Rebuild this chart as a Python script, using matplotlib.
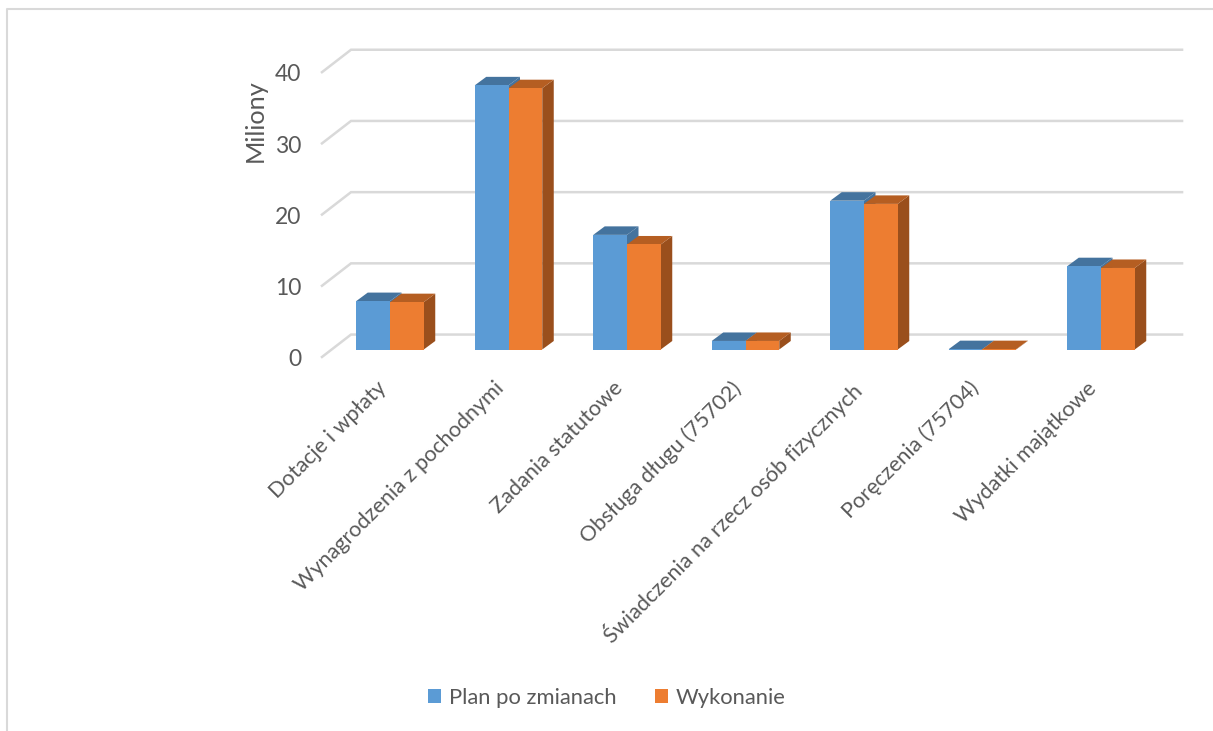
import matplotlib
matplotlib.use("Agg")
import matplotlib.pyplot as plt
from matplotlib.patches import Polygon, Patch

categories = ["Dotacje i wpłaty", "Wynagrodzenia z pochodnymi", "Zadania statutowe",
              "Obsługa długu (75702)", "Świadczenia na rzecz osób fizycznych",
              "Poręczenia (75704)", "Wydatki majątkowe"]
plan = [6.8, 37.1, 16.1, 1.2, 20.9, 0.05, 11.7]
wykonanie = [6.65, 36.7, 14.75, 1.2, 20.45, 0.05, 11.45]
yticks = [0, 10, 20, 30, 40]

W, H = 1213, 731
X0, DX = 390.0, 118.5    # pixel of first category, pixels per category
Y0, DY = 349.5, 7.12     # pixel of zero, pixels per million

plt.rcParams["font.family"] = ["Lato", "DejaVu Sans"]
TEXT = "#595959"
GRID = "#D9D9D9"

fig = plt.figure(figsize=(W / 100, H / 100), dpi=100)
ax = fig.add_axes([0, 0, 1, 1])
ax.set_xlim(-X0 / DX, (W - X0) / DX)
ax.set_ylim((Y0 - H) / DY, Y0 / DY)
ax.axis("off")

bar_w = 33.75 / DX
depth_x = 11.5 / DX
depth_y = 8.5 / DY


def bars3d(offset, values, front, top, side, label, z):
    for i, v in enumerate(values):
        l = i + offset
        r = l + bar_w
        ax.add_patch(Polygon([(r, 0), (r + depth_x, depth_y), (r + depth_x, v + depth_y), (r, v)],
                             fc=side, ec="none", zorder=z))
        ax.add_patch(Polygon([(l, v), (l + depth_x, v + depth_y), (r + depth_x, v + depth_y), (r, v)],
                             fc=top, ec="none", zorder=z))
    ax.bar([i + offset for i in range(len(values))], values, width=bar_w, align="edge",
           color=front, label=label, zorder=z + 0.5)


# gridlines on the back wall and the slanted bit on the side wall
for v in yticks:
    ax.plot([-0.574, -0.329, 6.684], [v - 1.05, v + 2.1, v + 2.1], color=GRID, lw=1.8,
            zorder=1, solid_joinstyle="miter")
    ax.text(-0.751, v - 1.15, str(v), ha="right", va="center_baseline", fontsize=16.5, color=TEXT)

bars3d(-bar_w, plan, "#5B9BD5", "#44739E", "#44739E", "Plan po zmianach", 2)
bars3d(0, wykonanie, "#ED7D31", "#B55E22", "#9A4F1C", "Wykonanie", 3)

for i, name in enumerate(categories):
    ax.text(i - 0.12, -4.0, name, rotation=45, rotation_mode="anchor", ha="right", va="top",
            fontsize=15.6, color=TEXT)

ax.text(-1.139, 32.1, "Miliony", rotation=90, ha="center", va="center", fontsize=18.2, color=TEXT)

handles = [Patch(fc="#5B9BD5", label="Plan po zmianach"), Patch(fc="#ED7D31", label="Wykonanie")]
fig.legend(handles=handles, loc="center", bbox_to_anchor=(606.5 / W, 1 - 698 / H), ncol=2, frameon=False,
           fontsize=15.8, labelcolor=TEXT, handlelength=0.61, handleheight=0.61, handletextpad=0.34,
           columnspacing=1.75)

# border of the pasted chart
fig.add_artist(plt.Line2D([7 / W, 7 / W, 1], [0, 1 - 9 / H, 1 - 9 / H], color="#D9D9D9", lw=1.5))

fig.savefig("out.png", dpi=100)
